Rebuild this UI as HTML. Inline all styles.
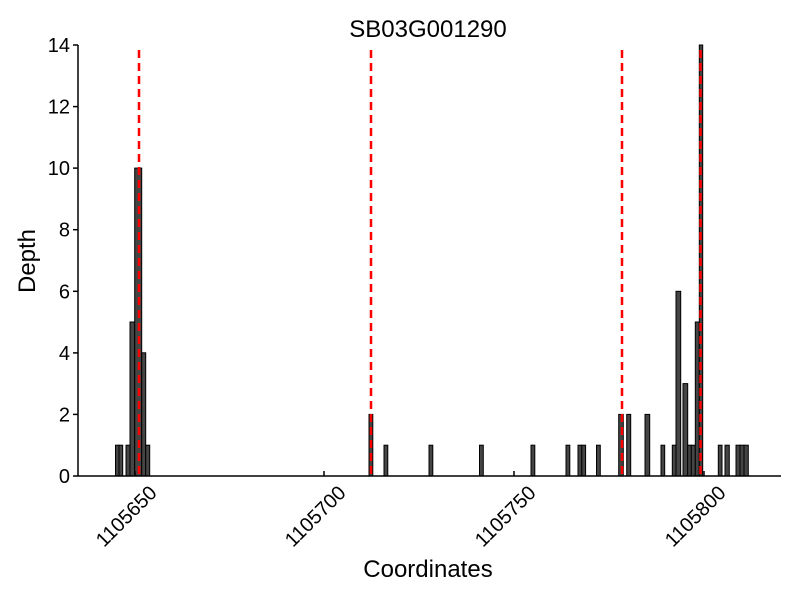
<!DOCTYPE html>
<html><head><meta charset="utf-8"><style>body{margin:0;background:#fff}svg{display:block}text{font-family:"Liberation Sans",sans-serif}</style></head><body>
<svg width="800" height="600" viewBox="0 0 800 600" xmlns="http://www.w3.org/2000/svg">
<rect width="800" height="600" fill="#fff"/>
<text x="428" y="37" font-size="24" text-anchor="middle">SB03G001290</text>
<g fill="#454545" stroke="#000" stroke-width="1">
<rect x="115.5" y="445.2" width="3.5" height="30.8"/>
<rect x="119" y="445.2" width="3.7" height="30.8"/>
<rect x="126" y="445.2" width="4" height="30.8"/>
<rect x="130" y="322" width="4.7" height="154"/>
<rect x="134.7" y="168.1" width="7" height="307.9"/>
<rect x="141.7" y="352.8" width="4" height="123.2"/>
<rect x="145.7" y="445.2" width="4" height="30.8"/>
<rect x="369" y="414.4" width="3.8" height="61.6"/>
<rect x="384" y="445.2" width="3.8" height="30.8"/>
<rect x="429" y="445.2" width="3.8" height="30.8"/>
<rect x="479.5" y="445.2" width="3.8" height="30.8"/>
<rect x="531" y="445.2" width="3.8" height="30.8"/>
<rect x="566" y="445.2" width="3.8" height="30.8"/>
<rect x="578" y="445.2" width="3.8" height="30.8"/>
<rect x="581.8" y="445.2" width="3.8" height="30.8"/>
<rect x="596.5" y="445.2" width="3.8" height="30.8"/>
<rect x="618.7" y="414.4" width="4.6" height="61.6"/>
<rect x="626.7" y="414.4" width="4" height="61.6"/>
<rect x="645" y="414.4" width="4.7" height="61.6"/>
<rect x="661" y="445.2" width="3.7" height="30.8"/>
<rect x="672.3" y="445.2" width="3.7" height="30.8"/>
<rect x="676" y="291.3" width="4.7" height="184.7"/>
<rect x="683" y="383.6" width="4.7" height="92.4"/>
<rect x="687.7" y="445.2" width="3.6" height="30.8"/>
<rect x="691.3" y="445.2" width="4" height="30.8"/>
<rect x="695.3" y="322" width="4" height="154"/>
<rect x="699.3" y="45" width="3.4" height="431"/>
<rect x="718.3" y="445.2" width="3.7" height="30.8"/>
<rect x="725" y="445.2" width="4.3" height="30.8"/>
<rect x="736" y="445.2" width="4" height="30.8"/>
<rect x="740" y="445.2" width="4" height="30.8"/>
<rect x="744" y="445.2" width="4.3" height="30.8"/>
</g>
<g stroke="#f00" stroke-width="2.5" stroke-dasharray="8,5">
<line x1="139" y1="50" x2="139" y2="476"/>
<line x1="371" y1="50" x2="371" y2="476"/>
<line x1="622" y1="50" x2="622" y2="476"/>
<line x1="700.5" y1="50" x2="700.5" y2="476"/>
</g>
<g stroke="#000" stroke-width="1.5" fill="none">
<line x1="78" y1="45" x2="78" y2="476"/>
<line x1="78" y1="476" x2="781" y2="476"/>
<line x1="73" y1="476" x2="78" y2="476"/><line x1="73" y1="414.4" x2="78" y2="414.4"/>
<line x1="73" y1="352.9" x2="78" y2="352.9"/><line x1="73" y1="291.3" x2="78" y2="291.3"/>
<line x1="73" y1="229.7" x2="78" y2="229.7"/><line x1="73" y1="168.1" x2="78" y2="168.1"/>
<line x1="73" y1="106.6" x2="78" y2="106.6"/><line x1="73" y1="45" x2="78" y2="45"/>
<line x1="135" y1="476" x2="135" y2="471"/><line x1="324" y1="476" x2="324" y2="471"/>
<line x1="514" y1="476" x2="514" y2="471"/><line x1="704" y1="476" x2="704" y2="471"/>
</g>
<g font-size="20" text-anchor="end">
<text x="70" y="483">0</text><text x="70" y="421.4">2</text><text x="70" y="359.9">4</text>
<text x="70" y="298.3">6</text><text x="70" y="236.7">8</text><text x="70" y="175.1">10</text>
<text x="70" y="113.6">12</text><text x="70" y="52">14</text>
</g>
<g font-size="20" text-anchor="end">
<text transform="translate(158,494) rotate(-45)">1105650</text>
<text transform="translate(347,494) rotate(-45)">1105700</text>
<text transform="translate(537,494) rotate(-45)">1105750</text>
<text transform="translate(727,494) rotate(-45)">1105800</text>
</g>
<text x="428" y="577" font-size="24" text-anchor="middle">Coordinates</text>
<text transform="translate(35,261) rotate(-90)" font-size="24" text-anchor="middle">Depth</text>
</svg>
</body></html>
